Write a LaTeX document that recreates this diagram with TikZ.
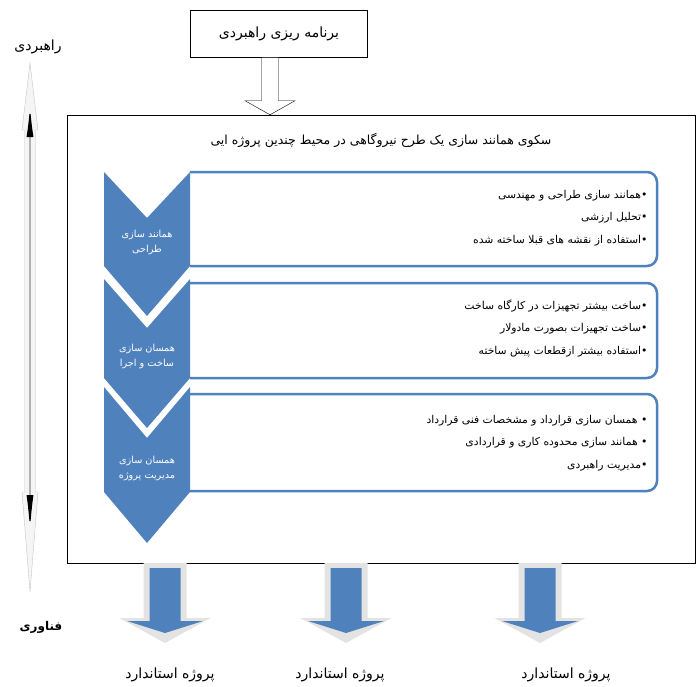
\documentclass[tikz,border=0pt]{standalone}
\usepackage{fontspec}
\usetikzlibrary{arrows.meta,calc}
\TeXXeTstate=1
\newfontfamily\fa[Script=Arabic]{DejaVu Sans}
\newcommand{\rtltxt}[1]{\beginR #1\endR}
\definecolor{stepblue}{HTML}{4F81BD}

\begin{document}
\begin{tikzpicture}[x=1pt,y=-1pt,
    tagtext/.style={font=\fa\fontsize{14}{16}\selectfont},
    chevtext/.style={font=\fa\fontsize{9.7}{15}\selectfont, text=white, align=center},
    panel/.style={draw=stepblue, line width=2.5pt, fill=white, rounded corners=10pt},
    items/.style={font=\fa\fontsize{10.8}{22.5}\selectfont, align=right, anchor=east},
    rim/.style={fill=gray!22},
    outarrow/.style={fill=stepblue}]
  \useasboundingbox (0,0) rectangle (698,686);
  % \draw[very thin, gray, step=50] (0,0) grid (698,686);

  \node[draw, minimum width=177pt, minimum height=47pt, tagtext] (plan) at (279,34) {\rtltxt{برنامه ریزی راهبردی}};
  \node[draw, minimum width=628pt, minimum height=448pt] (frame) at (381,339) {};
  \node[tagtext, font=\fa\fontsize{12.5}{14}\selectfont] (title) at (381,140) {\rtltxt{سکوی همانند سازی یک طرح نیروگاهی در محیط چندین پروژه ایی}};

  \coordinate (ptop) at ($(plan.south)+(-9,0)$);
  \coordinate (ptip) at (ptop |- frame.north);
  \draw[fill=white] ($(ptop)+(-8.5,0)$) -- ($(ptop)+(-8.5,43)$) -- ($(ptop)+(-25,43)$) -- (ptip)
    -- ($(ptop)+(25,43)$) -- ($(ptop)+(8.5,43)$) -- ($(ptop)+(8.5,0)$) -- cycle;

  % left scale
  \node[tagtext] (strat) at (38,47) {\rtltxt{راهبردی}};
  \node[tagtext, font=\fa\bfseries\fontsize{12}{14}\selectfont] (tech) at (41,627) {\rtltxt{فناوری}};
  \coordinate (up) at (30,106);
  \coordinate (down) at (30,530);
  \draw[draw=gray!45, fill=gray!8] (30,63) -- (38,130) -- (35.5,130) -- (35.5,492) -- (38,492) -- (30,592)
    -- (22,492) -- (24.5,492) -- (24.5,130) -- (22,130) -- cycle;
  \draw[gray!60, line width=1.2pt, {Latex[length=31pt,width=7pt,black]}-{Latex[length=35pt,width=7pt,black]}] (up) -- (down);

  % panels
  \draw[panel] (190,172) -- (657,172) -- (657,266) -- (190,266);
  \draw[panel] (190,283) -- (657,283) -- (657,378) -- (190,378);
  \draw[panel] (190,394) -- (657,394) -- (657,491) -- (190,491);

  \fill[stepblue] (104,172) -- (147,218) -- (190,172) -- (190,266) -- (147,316) -- (104,266) -- cycle;
  \fill[stepblue] (104,279) -- (147,328) -- (190,279) -- (190,378) -- (147,428) -- (104,378) -- cycle;
  \fill[stepblue] (104,387) -- (147,438) -- (190,387) -- (190,492) -- (147,543) -- (104,492) -- cycle;

  \node[chevtext] (c1) at (147,242) {\rtltxt{همانند سازی}\\\rtltxt{طراحی}};
  \node[chevtext] (c2) at (147,356) {\rtltxt{همسان سازی}\\\rtltxt{ساخت و اجرا}};
  \node[chevtext] (c3) at (147,468) {\rtltxt{همسان سازی}\\\rtltxt{مدیریت پروژه}};

  \node[items] (list1) at (651,218) {\rtltxt{•همانند سازی طراحی و مهندسی}\\\rtltxt{•تحلیل ارزشی}\\\rtltxt{•استفاده از نقشه های قبلا ساخته شده}};
  \node[items] (list2) at (651,328) {\rtltxt{•ساخت بیشتر تجهیزات در کارگاه ساخت}\\\rtltxt{•ساخت تجهیزات بصورت مادولار}\\\rtltxt{•استفاده بیشتر ازقطعات پیش ساخته}};
  \node[items] (list3) at (651,443) {\rtltxt{• همسان سازی قرارداد و مشخصات فنی قرارداد}\\\rtltxt{• همانند سازی محدوده کاری و قراردادی}\\\rtltxt{•مدیریت راهبردی}};

  % outputs
  \fill[rim, shift={(165,0)}] (-21.5,563) -- (-21.5,618) -- (-45.5,618) -- (0,643) -- (45.5,618) -- (21.5,618) -- (21.5,563) -- cycle;
  \fill[outarrow, shift={(165,0)}] (-15.5,568) -- (-15.5,621) -- (-38,621) -- (0,633) -- (38,621) -- (15.5,621) -- (15.5,568) -- cycle;
  \fill[rim, shift={(346,0)}] (-21.5,563) -- (-21.5,618) -- (-45.5,618) -- (0,643) -- (45.5,618) -- (21.5,618) -- (21.5,563) -- cycle;
  \fill[outarrow, shift={(346,0)}] (-15.5,568) -- (-15.5,621) -- (-38,621) -- (0,633) -- (38,621) -- (15.5,621) -- (15.5,568) -- cycle;
  \fill[rim, shift={(540,0)}] (-21.5,563) -- (-21.5,618) -- (-45.5,618) -- (0,643) -- (45.5,618) -- (21.5,618) -- (21.5,563) -- cycle;
  \fill[outarrow, shift={(540,0)}] (-15.5,568) -- (-15.5,621) -- (-38,621) -- (0,633) -- (38,621) -- (15.5,621) -- (15.5,568) -- cycle;

  \node[tagtext] (std1) at (170,675) {\rtltxt{پروژه استاندارد}};
  \node[tagtext] (std2) at (340,675) {\rtltxt{پروژه استاندارد}};
  \node[tagtext] (std3) at (566,675) {\rtltxt{پروژه استاندارد}};
\end{tikzpicture}
\end{document}
